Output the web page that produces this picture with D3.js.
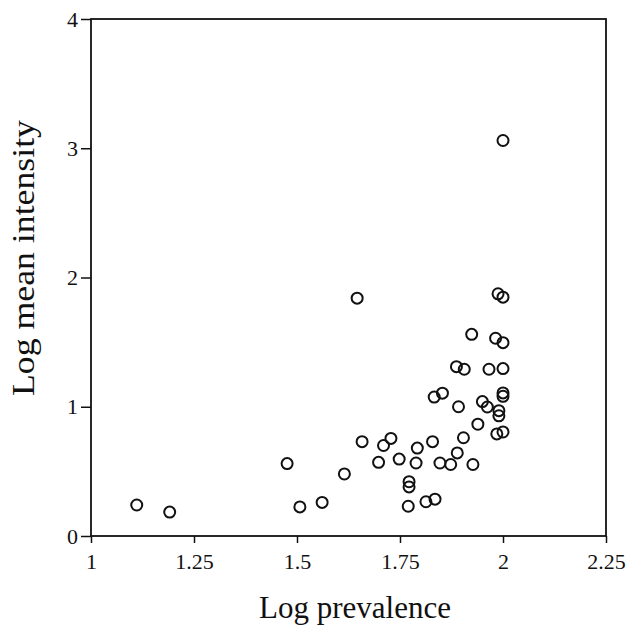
<!DOCTYPE html>
<html><head><meta charset="utf-8">
<script src="https://cdn.jsdelivr.net/npm/d3@7"></script>
<style>body{margin:0;background:#fff}svg{display:block}</style>
</head><body>
<script>
const prevalence = [1.111,1.191,1.476,1.507,1.561,1.615,1.646,1.658,1.698,1.71,1.728,1.748,1.772,1.772,1.77,1.792,1.789,1.813,1.829,1.835,1.833,1.853,1.847,1.873,1.887,1.906,1.889,1.892,1.904,1.924,1.927,1.939,1.95,1.962,1.966,1.982,1.988,2.0,2.0,2.0,2.0,2.0,1.99,1.99,1.985,2.0,2.0];
const intensity  = [0.24,0.185,0.56,0.225,0.26,0.48,1.84,0.73,0.57,0.70,0.755,0.595,0.42,0.38,0.23,0.68,0.565,0.265,0.73,0.285,1.075,1.105,0.565,0.553,1.31,1.29,0.643,1.0,0.76,1.56,0.553,0.865,1.04,0.998,1.29,1.53,1.874,1.848,1.496,1.295,1.107,1.081,0.97,0.93,0.79,0.805,3.06];
const xTicks = [1,1.25,1.5,1.75,2,2.25];
const xTickLabels = ["1","1.25","1.5","1.75","2","2.25"];
const yTicks = [0,1,2,3,4];
const yTickLabels = ["0","1","2","3","4"];

const W=628,H=625, L=91,R=606,T=19,B=536;
const svg=d3.select("body").append("svg").attr("width",W).attr("height",H);
const x=d3.scaleLinear().domain([1,2.25]).range([L,R]);
const y=d3.scaleLinear().domain([0,4]).range([B,T]);
const font="'Liberation Serif', 'Times New Roman', serif";

svg.append("rect").attr("x",L).attr("y",T).attr("width",R-L).attr("height",B-T)
  .attr("fill","none").attr("stroke","#111").attr("stroke-width",1.8);

const xa=svg.append("g").attr("transform",`translate(0,${B})`)
  .call(d3.axisBottom(x).tickValues(xTicks).tickFormat((d,i)=>xTickLabels[i]).tickSize(7).tickPadding(10));
const ya=svg.append("g").attr("transform",`translate(${L},0)`)
  .call(d3.axisLeft(y).tickValues(yTicks).tickFormat((d,i)=>yTickLabels[i]).tickSize(10).tickPadding(3));
[xa,ya].forEach(a=>{
  a.select(".domain").remove();
  a.selectAll("line").attr("stroke","#111").attr("stroke-width",1.5);
  a.selectAll("text").attr("font-family",font).attr("font-size",22).attr("fill","#111");
});

svg.append("g").selectAll("circle").data(prevalence).join("circle")
  .attr("cx",d=>x(d)).attr("cy",(d,i)=>y(intensity[i])).attr("r",5.5)
  .attr("fill","none").attr("stroke","#111").attr("stroke-width",2);

svg.append("text").attr("x",355).attr("y",618).attr("text-anchor","middle")
  .attr("font-family",font).attr("font-size",31).attr("fill","#111").text("Log prevalence");
svg.append("text").attr("transform",`translate(34,258) rotate(-90)`).attr("text-anchor","middle")
  .attr("font-family",font).attr("font-size",31).attr("fill","#111")
  .attr("textLength",276).attr("lengthAdjust","spacingAndGlyphs").text("Log mean intensity");
</script>
</body></html>
